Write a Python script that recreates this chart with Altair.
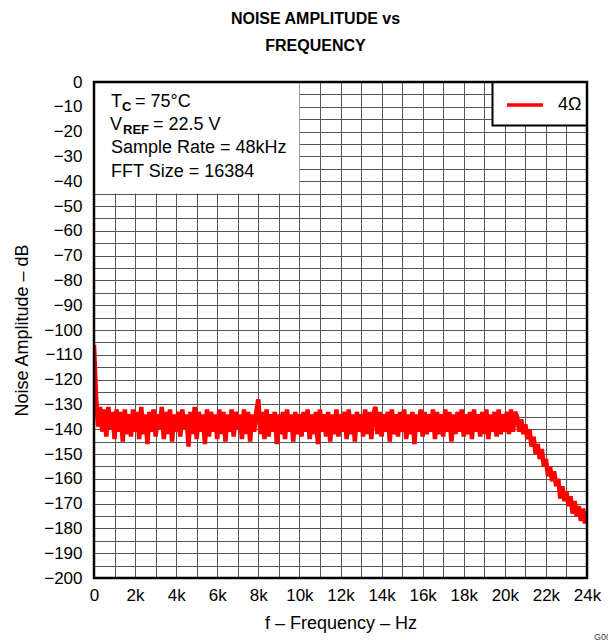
import altair as alt
import pandas as pd

FONT = "Liberation Sans"

# Frequency axis: one reading every 100 Hz from 0 to 24 kHz
freq_step_hz = 100
amp_db = [
    -106, -127, -139, -131, -141, -132, -143, -131, -140, -133, -144, -132, -141, -133, -145, -132, -142, -134, -143, -132,
    -141, -133, -144, -131, -142, -134, -146, -133, -141, -132, -143, -134, -140, -131, -144, -133, -142, -132, -145, -134,
    -141, -133, -143, -132, -140, -134, -147, -133, -142, -131, -144, -133, -141, -134, -146, -132, -143, -133, -141, -134,
    -144, -132, -142, -133, -145, -134, -141, -132, -143, -133, -140, -134, -144, -132, -142, -133, -145, -134, -141, -133,
    -128, -142, -133, -144, -132, -143, -134, -141, -133, -146, -134, -142, -133, -144, -132, -141, -134, -145, -133, -142,
    -134, -143, -133, -141, -132, -144, -134, -142, -133, -146, -132, -141, -134, -143, -133, -145, -134, -142, -132, -143,
    -134, -141, -133, -144, -132, -142, -134, -145, -133, -141, -134, -143, -132, -142, -133, -144, -134, -131, -142, -133,
    -143, -134, -141, -133, -145, -132, -142, -134, -143, -133, -141, -132, -144, -134, -142, -133, -146, -134, -141, -132,
    -143, -133, -142, -134, -141, -132, -144, -133, -142, -134, -143, -132, -141, -133, -145, -134, -142, -133, -141, -132,
    -143, -134, -142, -133, -144, -132, -141, -134, -143, -133, -142, -132, -144, -134, -141, -133, -143, -132, -142, -134,
    -141, -133, -142, -132, -141, -133, -135, -141, -136, -142, -138, -144, -140, -147, -143, -150, -146, -152, -148, -155,
    -152, -159, -155, -161, -157, -163, -160, -168, -163, -169, -165, -171, -167, -174, -169, -175, -171, -177, -172, -178,
    -173,
]
freq_hz = [i * freq_step_hz for i in range(len(amp_db))]

x_ticks = list(range(0, 24001, 1000))
y_ticks = list(range(-200, 1, 5))

series_name = "4Ω"
note_lines = ["Sample Rate = 48kHz", "FFT Size = 16384"]

df = pd.DataFrame({"f": freq_hz, "db": amp_db})

W, H = 493, 496

xscale = alt.Scale(domain=[0, 24000], nice=False, zero=False)
yscale = alt.Scale(domain=[-200, 0], nice=False, zero=False)

xaxis = alt.Axis(
    values=x_ticks, grid=True, ticks=False, domain=False,
    labelExpr="datum.value % 2000 != 0 ? '' : (datum.value == 0 ? '0' : (datum.value / 1000) + 'k')",
    labelFont=FONT, labelFontSize=17, labelColor="black", labelPadding=9,
    labelFlush=False, labelOverlap=False,
    title="f – Frequency – Hz", titleFont=FONT, titleFontSize=18, titleFontWeight="normal",
    titleColor="black", titlePadding=11,
    gridColor="#555555", gridWidth=1, gridOpacity=1,
)
yaxis = alt.Axis(
    values=y_ticks, grid=True, ticks=False, domain=False,
    labelExpr="datum.value % 10 != 0 ? '' : replace(toString(datum.value), '-', '−')",
    labelFont=FONT, labelFontSize=17, labelColor="black", labelPadding=12,
    labelFlush=False, labelOverlap=False,
    title="Noise Amplitude – dB", titleFont=FONT, titleFontSize=18, titleFontWeight="normal",
    titleColor="black", titlePadding=12,
    gridColor="#555555", gridWidth=1, gridOpacity=1,
)

line = alt.Chart(df).mark_line(color="#ff0000", strokeWidth=4.5, clip=True).encode(
    x=alt.X("f:Q", scale=xscale, axis=xaxis),
    y=alt.Y("db:Q", scale=yscale, axis=yaxis),
)

# white annotation box (covers grid), spans 0..10k, 0..-45 dB
box_df = pd.DataFrame({"f": [0], "x1": [10000], "db": [0], "y1": [-45]})
note_box = alt.Chart(box_df).mark_rect(fill="white", strokeWidth=0).encode(
    x=alt.X("f:Q", scale=xscale, axis=xaxis), x2="x1:Q",
    y=alt.Y("db:Q", scale=yscale, axis=yaxis), y2="y1:Q",
)

leg_df = pd.DataFrame({"f": [19400], "x1": [24000], "db": [0], "y1": [-17.5]})
leg_box = alt.Chart(leg_df).mark_rect(fill="white", stroke="black", strokeWidth=2).encode(
    x=alt.X("f:Q", scale=xscale, axis=xaxis), x2="x1:Q",
    y=alt.Y("db:Q", scale=yscale, axis=yaxis), y2="y1:Q",
)

one = pd.DataFrame({"a": [0]})


def txt(s, x, y, size=18, weight="normal", align="left", color="black"):
    return alt.Chart(one).mark_text(
        text=s, font=FONT, fontSize=size, fontWeight=weight, align=align,
        baseline="middle", color=color,
    ).encode(x=alt.value(x), y=alt.value(y))


texts = [
    txt("T", 17, 20),
    txt("C", 28, 25, size=13, weight="bold"),
    txt("= 75°C", 41, 20),
    txt("V", 16, 43),
    txt("REF", 29, 48, size=13, weight="bold"),
    txt("= 22.5 V", 59, 43),
    txt(note_lines[0], 17, 66),
    txt(note_lines[1], 17, 90),
    txt(series_name, 464, 23),
    txt("G008", 500, 555, size=9, color="#444444"),
]

leg_line = alt.Chart(one).mark_rule(color="#ff0000", strokeWidth=3.5).encode(
    x=alt.value(413), x2=alt.value(449), y=alt.value(23)
)

frame = alt.Chart(one).mark_rect(fillOpacity=0, stroke="black", strokeWidth=2.5).encode(
    x=alt.value(0), x2=alt.value(W), y=alt.value(0), y2=alt.value(H)
)

chart = alt.layer(line, note_box, leg_box, leg_line, frame, *texts).properties(
    width=W, height=H,
    autosize=alt.AutoSizeParams(type="none"),
    padding={"left": 86, "top": 74, "right": 21, "bottom": 62},
    title=alt.TitleParams(
        text=["NOISE AMPLITUDE vs", "FREQUENCY"], font=FONT, fontSize=16,
        fontWeight="bold", color="black", anchor="middle", dx=-25, offset=19,
        lineHeight=27,
    ),
).configure_view(stroke=None).configure(background="white")

chart.save("out.html", embed_options={"renderer": "svg", "actions": False})
